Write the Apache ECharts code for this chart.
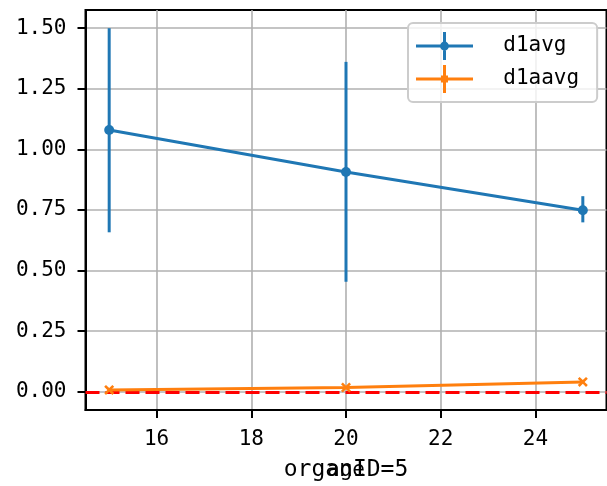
<!DOCTYPE html>
<html>
<head>
<meta charset="utf-8">
<script src="https://cdn.jsdelivr.net/npm/echarts@6/dist/echarts.min.js"></script>
<style>html,body{margin:0;padding:0;background:#fff}#c{width:607px;height:486px}</style>
</head>
<body>
<div id="c"></div>
<script>
const ages = [15, 20, 25];
const d1avg = [1.08, 0.907, 0.749];
const d1avgLow = [0.658, 0.454, 0.699];
const d1avgHigh = [1.50, 1.361, 0.807];
const d1aavg = [0.008, 0.018, 0.041];
const d1aavgLow = [0.005, 0.013, 0.038];
const d1aavgHigh = [0.011, 0.023, 0.044];
const xTicks = [16, 18, 20, 22, 24];
const yTicks = [0, 0.25, 0.5, 0.75, 1.0, 1.25, 1.5];
const refLine = 0;
const titleText = 'organID=5';
const xName = 'age';

const BLUE = '#1f77b4', ORANGE = '#ff7f0e';
const FONT = 'DejaVu Sans Mono';

function errSeries(name, color, low, high) {
  return {
    type: 'custom', name: name, z: 3,
    data: ages.map((x, i) => [x, low[i], high[i]]),
    encode: { x: 0, y: [1, 2] },
    renderItem: function (params, api) {
      const x = api.value(0), lo = api.value(1), hi = api.value(2);
      const p1 = api.coord([x, lo]), p2 = api.coord([x, hi]);
      return { type: 'line', shape: { x1: p1[0], y1: p1[1], x2: p2[0], y2: p2[1] },
        style: { stroke: color, lineWidth: 3 } };
    }
  };
}

const xMark = 'path://M0 1.8 L1.8 0 L5 3.2 L8.2 0 L10 1.8 L6.8 5 L10 8.2 L8.2 10 L5 6.8 L1.8 10 L0 8.2 L3.2 5 Z';
const iconBlue = 'path://M0 12.6 H57 V15.6 H0 Z M27 0 H30 V28 H27 Z M24 14.1 A4.5 4.5 0 1 1 33 14.1 A4.5 4.5 0 1 1 24 14.1 Z';
const iconOrange = 'path://M0 12.6 H57 V15.6 H0 Z M27 0 H30 V28 H27 Z M25 10.6 H32 V17.6 H25 Z';

const chart = echarts.init(document.getElementById('c'), null, { renderer: 'canvas' });
chart.setOption({
  animation: false,
  backgroundColor: '#fff',
  textStyle: { fontFamily: FONT },
  grid: { left: 85.5, top: 10, width: 521, height: 403, show: true,
    borderColor: '#000', borderWidth: 2, backgroundColor: 'transparent' },
  xAxis: {
    type: 'value', min: 14.5, max: 25.5,
    name: xName, nameLocation: 'middle', nameGap: 50,
    nameTextStyle: { fontFamily: FONT, fontSize: 21, color: '#000' },
    axisLine: { show: true, onZero: false, lineStyle: { color: '#000', width: 2 } },
    axisTick: { show: true, length: 8, lineStyle: { color: '#000', width: 2 }, customValues: xTicks },
    axisLabel: { customValues: xTicks, fontFamily: FONT, fontSize: 21, color: '#000', margin: 19 },
    splitLine: { show: true, lineStyle: { color: '#b0b0b0', width: 1.6 } }
  },
  yAxis: {
    type: 'value', min: -0.075, max: 1.575,
    axisLine: { show: true, onZero: false, lineStyle: { color: '#000', width: 2 } },
    axisTick: { show: true, length: 8, lineStyle: { color: '#000', width: 2 }, customValues: yTicks },
    axisLabel: { customValues: yTicks, fontFamily: FONT, fontSize: 21, color: '#000', margin: 19,
      formatter: v => Number(v).toFixed(2) },
    splitLine: { show: true, lineStyle: { color: '#b0b0b0', width: 1.6 } }
  },
  legend: {
    orient: 'vertical', left: 408, top: 23,
    padding: [9, 18, 9, 8], itemGap: 5, itemWidth: 57, itemHeight: 28,
    backgroundColor: 'rgba(255,255,255,0.8)', borderColor: '#cccccc', borderWidth: 2, borderRadius: 5,
    textStyle: { fontFamily: FONT, fontSize: 21, color: '#000' },
    formatter: n => '  ' + n,
    data: [{ name: 'd1avg', icon: iconBlue }, { name: 'd1aavg', icon: iconOrange }]
  },
  graphic: [{
    type: 'text', x: 346, y: 470, z: 100,
    style: { text: titleText, font: '23px "' + FONT + '"', fill: '#000', align: 'center', verticalAlign: 'middle' }
  }],
  series: [
    Object.assign(errSeries('d1avg_err', BLUE, d1avgLow, d1avgHigh), {
      markLine: { silent: true, symbol: ['none', 'none'], label: { show: false }, z: 1,
        lineStyle: { color: '#ff0000', width: 3, type: [14, 6] },
        data: [{ yAxis: refLine }] }
    }),
    {
      type: 'line', name: 'd1avg', z: 4,
      data: ages.map((x, i) => [x, d1avg[i]]),
      color: BLUE, symbol: 'circle', symbolSize: 10, showSymbol: true,
      lineStyle: { color: BLUE, width: 3 }, itemStyle: { color: BLUE, borderWidth: 0 }
    },
    errSeries('d1aavg_err', ORANGE, d1aavgLow, d1aavgHigh),
    {
      type: 'line', name: 'd1aavg', z: 5,
      data: ages.map((x, i) => [x, d1aavg[i]]),
      color: ORANGE, symbol: xMark, symbolSize: 10, showSymbol: true,
      lineStyle: { color: ORANGE, width: 3 }, itemStyle: { color: ORANGE, borderWidth: 0 }
    }
  ]
});
</script>
</body>
</html>
